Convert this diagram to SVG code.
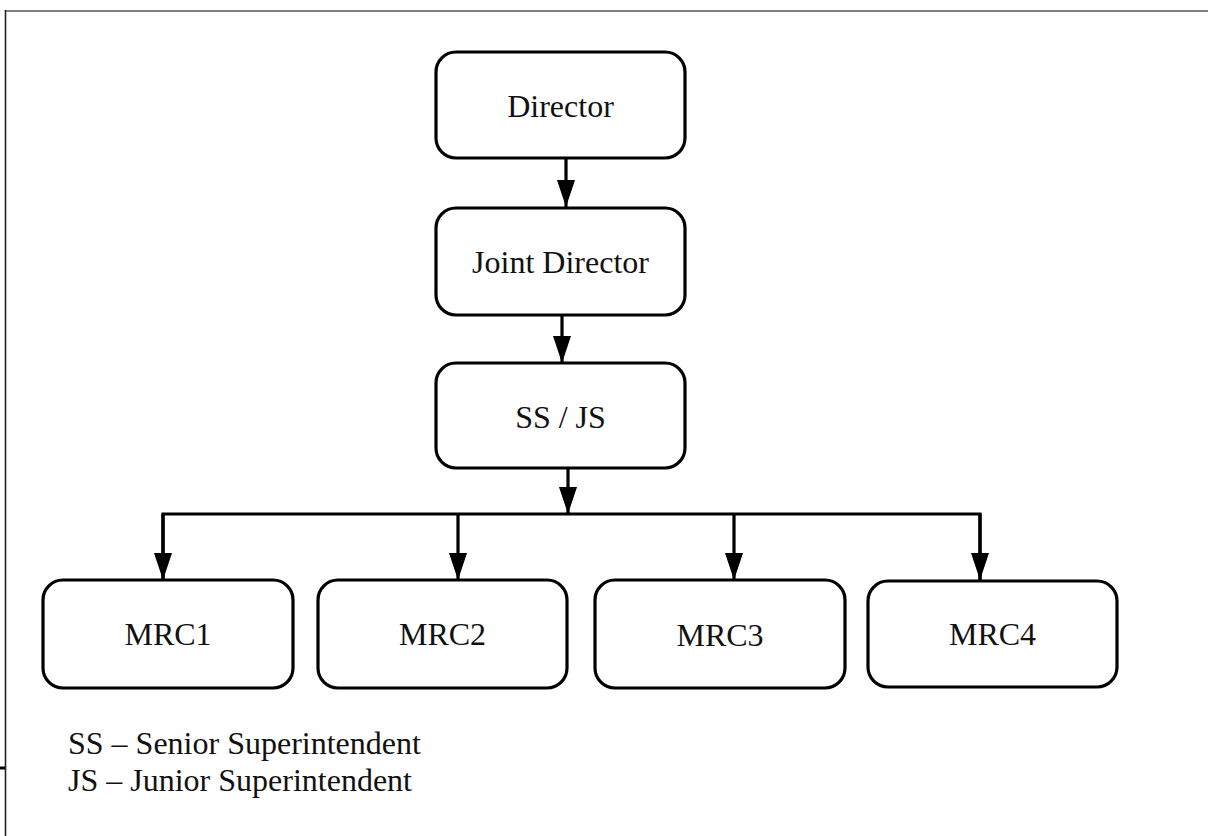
<svg xmlns="http://www.w3.org/2000/svg" width="1208" height="836" viewBox="0 0 1208 836">
  <defs>
    <style>
      .box { fill: #ffffff; stroke: #000000; stroke-width: 3.2; }
      .lbl { font-family: "Liberation Serif", "Times New Roman", serif; font-size: 32px; fill: #111111; text-anchor: middle; }
      .leg { font-family: "Liberation Serif", "Times New Roman", serif; font-size: 32px; fill: #111111; }
      .conn { fill: none; stroke: #000000; stroke-width: 3.2; }
    </style>
    <marker id="ah" viewBox="0 0 27 18" markerWidth="27" markerHeight="18" refX="27" refY="9" orient="auto" markerUnits="userSpaceOnUse">
      <polygon points="0,0 27,9 0,18" fill="#000000"/>
    </marker>
  </defs>
  <rect width="1208" height="836" fill="#ffffff"/>
  <g id="frame">
    <line x1="5" y1="11" x2="1208" y2="11" stroke="#808080" stroke-width="2"/>
    <line x1="5.5" y1="10" x2="5.5" y2="836" stroke="#222222" stroke-width="1.6"/>
    <line x1="0" y1="768" x2="5" y2="768" stroke="#000000" stroke-width="3"/>
  </g>
  <g id="connectors">
    <line class="conn" x1="566" y1="158" x2="566" y2="207" marker-end="url(#ah)"/>
    <line class="conn" x1="562" y1="315" x2="562" y2="363" marker-end="url(#ah)"/>
    <line class="conn" x1="568" y1="468" x2="568" y2="514" marker-end="url(#ah)"/>
    <polyline class="conn" points="163,579 163,514 980,514 980,579"/>
    <line class="conn" x1="163" y1="514" x2="163" y2="580" marker-end="url(#ah)"/>
    <line class="conn" x1="458" y1="514" x2="458" y2="580" marker-end="url(#ah)"/>
    <line class="conn" x1="734" y1="514" x2="734" y2="580" marker-end="url(#ah)"/>
    <line class="conn" x1="980" y1="514" x2="980" y2="580" marker-end="url(#ah)"/>
  </g>
  <g id="director">
    <rect class="box" x="436" y="52" width="249" height="106" rx="20"/>
    <text class="lbl" x="560.5" y="117">Director</text>
  </g>
  <g id="joint-director">
    <rect class="box" x="436" y="208" width="249" height="107" rx="20"/>
    <text class="lbl" x="560.5" y="273">Joint Director</text>
  </g>
  <g id="ss-js">
    <rect class="box" x="436" y="363" width="249" height="105" rx="20"/>
    <text class="lbl" x="560.5" y="428">SS / JS</text>
  </g>
  <g id="mrc1">
    <rect class="box" x="43" y="580" width="250" height="108" rx="20"/>
    <text class="lbl" x="168" y="645">MRC1</text>
  </g>
  <g id="mrc2">
    <rect class="box" x="318" y="580" width="249" height="108" rx="20"/>
    <text class="lbl" x="442.5" y="645">MRC2</text>
  </g>
  <g id="mrc3">
    <rect class="box" x="595" y="580" width="250" height="108" rx="20"/>
    <text class="lbl" x="720" y="646">MRC3</text>
  </g>
  <g id="mrc4">
    <rect class="box" x="868" y="581" width="249" height="106" rx="20"/>
    <text class="lbl" x="992.5" y="645">MRC4</text>
  </g>
  <g id="legend">
    <text class="leg" x="68" y="754">SS – Senior Superintendent</text>
    <text class="leg" x="68" y="791">JS – Junior Superintendent</text>
  </g>
</svg>
